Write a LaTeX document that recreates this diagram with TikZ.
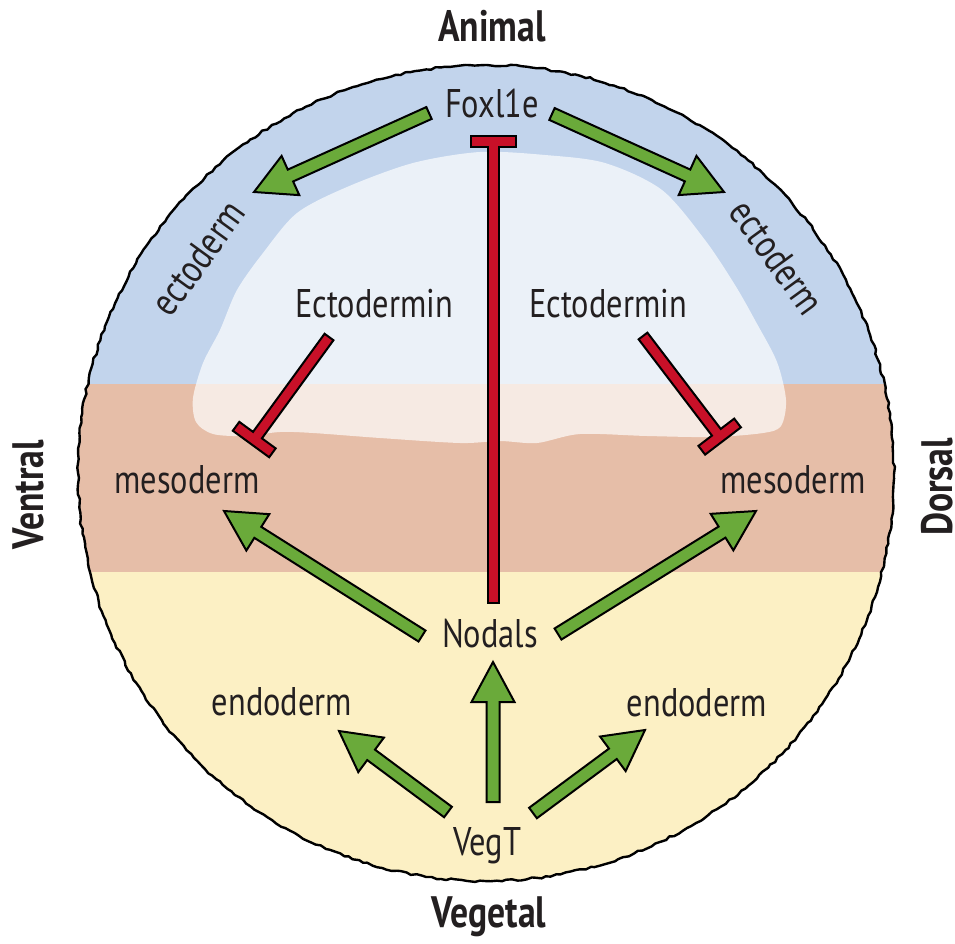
\documentclass[tikz,border=0pt]{standalone}
\usepackage{fontspec}
\setmainfont{PT Sans}[FakeStretch=0.81]
\usetikzlibrary{calc,decorations.pathmorphing}
\definecolor{bandblue}{RGB}{194,212,236}
\definecolor{bandsalmon}{RGB}{230,190,168}
\definecolor{bandyellow}{RGB}{252,240,196}
\definecolor{agreen}{RGB}{106,170,58}
\definecolor{ared}{RGB}{200,16,40}
\definecolor{ink}{RGB}{35,31,32}
\tikzset{
  lbl/.style={text=ink, inner sep=0pt, font=\fontsize{40}{46}\selectfont},
  bold/.style={text=ink, inner sep=0pt, font=\fontsize{44}{50}\selectfont\bfseries},
  garrowstyle/.style={draw=black, fill=agreen, line width=2pt, line join=miter},
  rbarstyle/.style={draw=black, fill=ared, line width=2pt, line join=miter},
  outline/.style={draw=black, line width=2.4pt, line join=round,
    decorate, decoration={random steps, segment length=5pt, amplitude=1.1pt}}
}
% green arrow polygon from #1 (tail) to #2 (tip)
\newcommand\GArrow[2]{%
  \draw[garrowstyle] ($(#1)!6.5pt!90:(#2)$)
   -- ($(#2)!40pt!(#1)!6.5pt!-90:(#1)$)
   -- ($(#2)!40pt!(#1)!21.5pt!-90:(#1)$)
   -- (#2)
   -- ($(#2)!40pt!(#1)!21.5pt!90:(#1)$)
   -- ($(#2)!40pt!(#1)!6.5pt!90:(#1)$)
   -- ($(#1)!6.5pt!-90:(#2)$) -- cycle;}
% red T-bar polygon from #1 (tail) to #2 (bar face)
\newcommand\RBar[2]{%
  \draw[rbarstyle] ($(#1)!5.5pt!90:(#2)$)
   -- ($(#2)!11pt!(#1)!5.5pt!-90:(#1)$)
   -- ($(#2)!11pt!(#1)!22.5pt!-90:(#1)$)
   -- ($(#2)!22.5pt!-90:(#1)$)
   -- ($(#2)!22.5pt!90:(#1)$)
   -- ($(#2)!11pt!(#1)!22.5pt!90:(#1)$)
   -- ($(#2)!11pt!(#1)!5.5pt!90:(#1)$)
   -- ($(#1)!5.5pt!-90:(#2)$) -- cycle;}
\begin{document}
\begin{tikzpicture}[x=1pt,y=-1pt]
\useasboundingbox (0,0) rectangle (955,944);
\fill[white] (0,0) rectangle (955,944);
% bands
\begin{scope}
  \clip (486,473) circle (408);
  \fill[bandblue] (0,0) rectangle (955,384);
  \fill[bandsalmon] (0,384) rectangle (955,572);
  \fill[bandyellow] (0,572) rectangle (955,944);
  \fill[white, opacity=0.68] plot[smooth cycle, tension=0.5] coordinates {
    (213,434) (196,422) (193,398) (203,363) (220,330) (237,290) (263,253)
    (297,213) (347,187) (413,163) (480,152) (545,155) (605,163) (662,190)
    (705,240) (735,285) (756,322) (777,362) (786,400) (781,426) (763,433)
    (713,437) (647,436) (580,434) (537,443) (500,441) (460,443) (380,438)
    (313,433) (280,432) (245,436)};
\end{scope}
\pgfmathsetseed{11}
\draw[outline] (486,473) circle (408);

% labels
\node[bold] (animal) at (492,26) {Animal};
\node[bold] (vegetal) at (489,917) {Vegetal};
\node[bold, rotate=90] (ventral) at (28,495) {Ventral};
\node[bold, rotate=90] (dorsal) at (937,487) {Dorsal};
\node[lbl, anchor=base] (fox) at (492,118) {Foxl1e};
\node[lbl, rotate=54] (ectoL) at (198,258) {ectoderm};
\node[lbl, rotate=-54] (ectoR) at (777,257) {ectoderm};
\node[lbl, anchor=base] (ectodL) at (374,317) {Ectodermin};
\node[lbl, anchor=base] (ectodR) at (608,317) {Ectodermin};
\node[lbl, anchor=base] (mesoL) at (187,493) {mesoderm};
\node[lbl, anchor=base] (mesoR) at (793,493) {mesoderm};
\node[lbl, anchor=base] (nodals) at (490,647) {Nodals};
\node[lbl, anchor=base] (endoL) at (282,715) {endoderm};
\node[lbl, anchor=base] (endoR) at (697,716) {endoderm};
\node[lbl, anchor=base] (vegt) at (487,855) {VegT};

% connector end points, placed relative to their nodes
\coordinate (foxA) at ($(fox.base)+(-63,-5)$);
\coordinate (foxB) at ($(fox.base)+(60,-4)$);
\coordinate (foxBar) at ($(fox.base)+(1,18)$);
\coordinate (ectoLtip) at ($(ectoL)+(56,-66)$);
\coordinate (ectoRtip) at ($(ectoR)+(-53,-65)$);
\coordinate (nodA) at ($(nodals.base)+(-68,-11)$);
\coordinate (nodB) at ($(nodals.base)+(68,-13)$);
\coordinate (nodTip) at ($(nodals.base)+(3,15)$);
\coordinate (nodTop) at ($(nodals.base)+(3,-44)$);
\coordinate (mesoLtip) at ($(mesoL.base)+(37,18)$);
\coordinate (mesoRtip) at ($(mesoR.base)+(-37,18)$);
\coordinate (mesoLbar) at ($(mesoL.base)+(64,-49)$);
\coordinate (mesoRbar) at ($(mesoR.base)+(-70,-52)$);
\coordinate (ectodLs) at ($(ectodL.base)+(-45,20)$);
\coordinate (ectodRs) at ($(ectodR.base)+(35,19)$);
\coordinate (vegA) at ($(vegt.base)+(-39,-43)$);
\coordinate (vegB) at ($(vegt.base)+(6,-53)$);
\coordinate (vegC) at ($(vegt.base)+(46,-42)$);
\coordinate (endoLtip) at ($(endoL.base)+(57,16)$);
\coordinate (endoRtip) at ($(endoR.base)+(-52,14)$);

% connectors
\RBar{nodTop}{foxBar}
\RBar{ectodLs}{mesoLbar}
\RBar{ectodRs}{mesoRbar}
\GArrow{foxA}{ectoLtip}
\GArrow{foxB}{ectoRtip}
\GArrow{nodA}{mesoLtip}
\GArrow{nodB}{mesoRtip}
\GArrow{vegB}{nodTip}
\GArrow{vegA}{endoLtip}
\GArrow{vegC}{endoRtip}
\end{tikzpicture}
\end{document}
